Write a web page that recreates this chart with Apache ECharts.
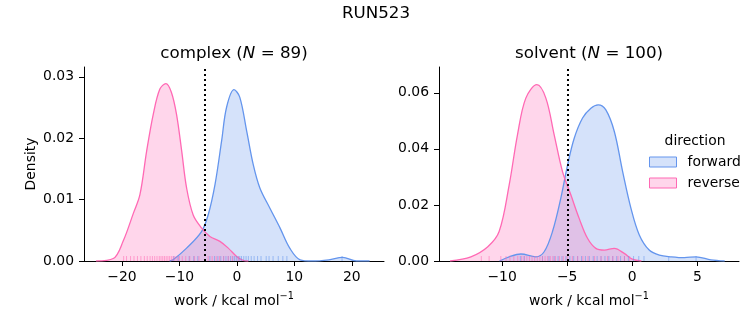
<!DOCTYPE html>
<html><head><meta charset="utf-8">
<script src="https://cdn.jsdelivr.net/npm/echarts@6/dist/echarts.min.js"></script>
<style>html,body{margin:0;padding:0;background:#fff}#c{width:753px;height:325px}</style>
</head><body><div id="c"></div>
<script>
// KDE curves: [work, density]
const complexForward = [[-11.7,0],[-11.1,0.0002],[-8.75,0.0021],[-6.15,0.0048],[-5.0,0.0075],[-3.8,0.0125],[-2.65,0.0196],[-1.8,0.0250],[-0.5,0.0279],[0.5,0.0267],[1.7,0.0212],[2.85,0.0157],[4.0,0.0119],[5.75,0.0086],[7.5,0.0054],[9.2,0.0021],[11,0.0002],[13.1,0],[16,0.0002],[18.4,0.0006],[20.8,0],[23.1,0]];
const complexReverse = [[-24.5,0],[-21.5,0.0004],[-19.8,0.0032],[-18.0,0.0078],[-16.87,0.0108],[-15.7,0.0179],[-14.55,0.0239],[-13.4,0.0280],[-12.35,0.0289],[-11.4,0.0275],[-10.5,0.0239],[-9.6,0.0179],[-8.75,0.0119],[-7.6,0.0075],[-6.15,0.0054],[-4.7,0.0040],[-2.95,0.0032],[-1.5,0.0021],[0,0.0007],[1.1,0.0001],[2.0,0]];
const solventForward = [[-10.2,0],[-9.46,0.0015],[-8.56,0.0025],[-7.41,0.0015],[-6.77,0.0033],[-6.13,0.0105],[-5.49,0.0224],[-4.97,0.0343],[-4.46,0.0438],[-3.82,0.0510],[-3.18,0.0545],[-2.62,0.0557],[-2.03,0.0539],[-1.38,0.0462],[-0.74,0.0319],[-0.1,0.0188],[0.54,0.0093],[1.3,0.0039],[2.08,0.0021],[3.0,0.0015],[4.0,0.0012],[4.9,0.0015],[6.05,0.0004],[7.1,0]];
const solventReverse = [[-14,0],[-12.4,0.0015],[-11.1,0.0051],[-10.23,0.0105],[-9.46,0.0271],[-8.82,0.0450],[-8.18,0.0581],[-7.33,0.0629],[-6.64,0.0581],[-6.0,0.0450],[-5.36,0.0319],[-4.72,0.0236],[-4.08,0.0152],[-3.44,0.0081],[-2.8,0.0045],[-2.15,0.0039],[-1.38,0.0045],[-0.62,0.0027],[0.0,0.0007],[0.7,0]];
// rug positions
const complexForwardRug = [-11.0,-10.2,-8.3,-7.5,-6.8,-4.7,-3.9,-3.3,-2.8,-2.3,-1.9,-1.5,-1.1,-0.7,-0.4,-0.1,0.2,0.5,0.8,1.2,1.6,2.0,2.5,3.0,3.6,4.2,5.1,5.6,6.3,7.2,8.0,8.7,18.3];
const complexReverseRug = [-19.7,-19.2,-18.5,-17.9,-17.3,-16.7,-16.1,-15.6,-15.1,-14.7,-14.3,-13.9,-13.5,-13.2,-12.9,-12.6,-12.3,-12.0,-11.7,-11.4,-11.1,-10.8,-10.4,-10.0,-9.5,-8.9,-8.2,-7.4,-6.6,-5.0,-4.3,-3.6,-3.0,-2.3,-1.5,-0.8,0.3];
const solventForwardRug = [-8.6,-8.3,-6.9,-6.4,-6.0,-5.7,-5.4,-5.1,-4.8,-4.5,-4.2,-3.9,-3.6,-3.3,-3.0,-2.7,-2.4,-2.1,-1.8,-1.5,-1.2,-0.9,-0.6,-0.3,0.1,0.5,0.9,2.8,4.9];
const solventReverseRug = [-11.6,-11.0,-10.1,-9.7,-9.4,-9.1,-8.8,-8.5,-8.3,-8.1,-7.9,-7.7,-7.5,-7.3,-7.1,-6.9,-6.7,-6.5,-6.3,-6.1,-5.9,-5.6,-5.3,-5.0,-4.6,-4.2,-3.8,-3.4,-2.9,-2.4,-1.9,-1.5,-1.1,-0.6,-0.2];
// reference lines
const complexMarker = -5.57;
const solventMarker = -4.95;
// tick labels
const complexXTicks = [-20,-10,0,10,20];
const complexYTicks = [0,0.01,0.02,0.03];
const solventXTicks = [-10,-5,0,5];
const solventYTicks = [0,0.02,0.04,0.06];
const directions = ['forward','reverse'];
const colors = {forward:'#6495ED', reverse:'#FF69B4'};
const fills = {forward:'rgba(100,149,237,0.27)', reverse:'rgba(255,105,180,0.27)'};

const FONT = 'DejaVu Sans';
const FS = 13.9;
const minus = v => String(v).replace('-', '\u2212');

function kde(name, data, gi, marker){
  const s = {type:'line', name, xAxisIndex:gi, yAxisIndex:gi, data, smooth:0.35, showSymbol:false, symbol:'none',
    lineStyle:{color:colors[name], width:1.3}, itemStyle:{color:colors[name]}, areaStyle:{color:fills[name], opacity:1},
    silent:true, z:2};
  if (marker !== undefined) {
    s.markLine = {silent:true, symbol:'none', label:{show:false},
      lineStyle:{color:'#000', type:[2,3], width:2}, data:[{xAxis:marker}], z:5};
  }
  return s;
}
function rug(name, vals, gi){
  return {type:'scatter', name, xAxisIndex:gi, yAxisIndex:gi, data: vals.map(v=>[v,0]),
    symbol:'rect', symbolSize:[1,5], symbolOffset:[0,-2.5], itemStyle:{color:colors[name], opacity:0.55}, silent:true, z:3};
}
function xAxis(gi, min, max, ticks){
  return {type:'value', gridIndex:gi, min, max, splitLine:{show:false},
    axisLine:{show:true, onZero:false, lineStyle:{color:'#000', width:1}},
    axisTick:{show:true, customValues:ticks, length:5, lineStyle:{color:'#000'}},
    axisLabel:{customValues:ticks, formatter:minus, color:'#000', fontFamily:FONT, fontSize:FS, margin:9},
    name:'{a|work / kcal mol}{s|\u22121}', nameLocation:'middle', nameGap:30,
    nameTextStyle:{rich:{a:{fontFamily:FONT, fontSize:FS, color:'#000', verticalAlign:'bottom', lineHeight:17},
                         s:{fontFamily:FONT, fontSize:9.7, color:'#000', verticalAlign:'top', lineHeight:17, padding:[0,0,7,0]}}}};
}
function yAxis(gi, max, ticks, name){
  return {type:'value', gridIndex:gi, min:0, max, splitLine:{show:false},
    axisLine:{show:true, onZero:false, lineStyle:{color:'#000', width:1}},
    axisTick:{show:true, customValues:ticks, length:5, lineStyle:{color:'#000'}},
    axisLabel:{customValues:ticks, formatter:v=>v.toFixed(2), color:'#000', fontFamily:FONT, fontSize:FS, margin:10},
    name: name || '', nameLocation:'middle', nameGap:46, nameRotate:90,
    nameTextStyle:{fontFamily:FONT, fontSize:FS, color:'#000'}};
}
const titleRich = {r:{fontFamily:FONT, fontSize:16.7, fontWeight:'normal', color:'#000'},
                   i:{fontFamily:FONT, fontSize:16.7, fontStyle:'italic', fontWeight:'normal', color:'#000'}};

const chart = echarts.init(document.getElementById('c'), null, {renderer:'canvas'});
chart.setOption({
  animation:false,
  backgroundColor:'#fff',
  title:[
    {text:'RUN523', left:376, top:5, padding:0, textAlign:'center', textStyle:{fontFamily:FONT, fontSize:16.7, fontWeight:'normal', color:'#000'}},
    {text:'{r|complex (}{i|N}{r| = 89)}', left:234, top:45, padding:0, textAlign:'center', textStyle:{fontWeight:'normal', rich:titleRich}},
    {text:'{r|solvent (}{i|N}{r| = 100)}', left:589, top:45, padding:0, textAlign:'center', textStyle:{fontWeight:'normal', rich:titleRich}},
    {text:'direction', left:695, top:134, padding:0, textAlign:'center', textStyle:{fontFamily:FONT, fontSize:FS, fontWeight:'normal', color:'#000'}}
  ],
  legend:{orient:'vertical', left:649, top:155, padding:0, itemWidth:27, itemHeight:10, itemGap:7, icon:'rect',
    textStyle:{fontFamily:FONT, fontSize:FS, color:'#000', lineHeight:14, padding:[0,0,0,6]},
    data: directions.map(d=>({name:d, icon:'rect', itemStyle:{color:fills[d], borderColor:colors[d], borderWidth:1}}))},
  grid:[
    {left:84, top:67, width:300, height:194, containLabel:false},
    {left:439, top:67, width:300, height:194, containLabel:false}
  ],
  xAxis:[xAxis(0,-26.6,25.6,complexXTicks), xAxis(1,-14.85,8.2,solventXTicks)],
  yAxis:[yAxis(0,0.0316,complexYTicks,'Density'), yAxis(1,0.0692,solventYTicks)],
  series:[
    kde('forward', complexForward, 0, complexMarker),
    kde('reverse', complexReverse, 0),
    rug('forward', complexForwardRug, 0),
    rug('reverse', complexReverseRug, 0),
    kde('forward', solventForward, 1, solventMarker),
    kde('reverse', solventReverse, 1),
    rug('forward', solventForwardRug, 1),
    rug('reverse', solventReverseRug, 1)
  ]
});
</script></body></html>
